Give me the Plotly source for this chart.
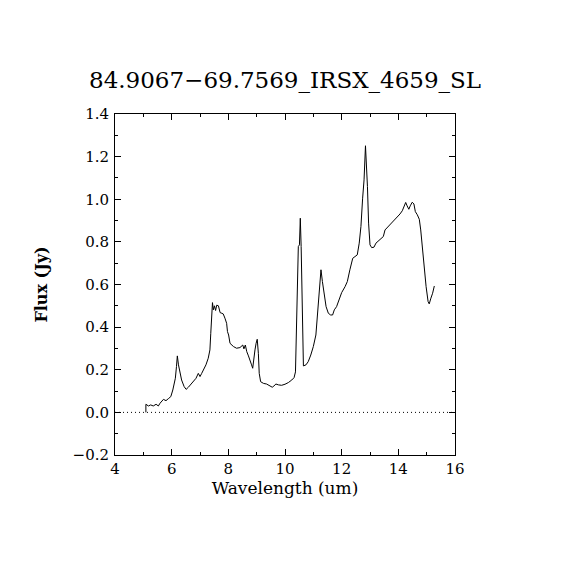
import plotly.graph_objects as go

# spectrum (wavelength in um, flux in Jy)
wavelength = [
    5.09, 5.09, 5.18, 5.26, 5.35, 5.45, 5.53, 5.59, 5.71, 5.80, 5.88, 5.97,
    6.04, 6.08, 6.13, 6.17, 6.20, 6.24, 6.29, 6.35, 6.44, 6.51, 6.59, 6.67,
    6.77, 6.86, 6.94, 7.00, 7.06, 7.12, 7.21, 7.29, 7.35, 7.38, 7.41, 7.44,
    7.47, 7.51, 7.55, 7.59, 7.65, 7.71, 7.77, 7.82, 7.88, 7.94, 7.97, 8.01,
    8.06, 8.12, 8.18, 8.29, 8.41, 8.51, 8.55, 8.60, 8.65, 8.71, 8.77, 8.82,
    8.86, 8.89, 8.94, 8.98, 9.02, 9.06, 9.09, 9.14, 9.24, 9.35, 9.47, 9.55,
    9.61, 9.68, 9.77, 9.88, 10.00, 10.12, 10.24, 10.32, 10.37, 10.41, 10.47,
    10.51, 10.54, 10.57, 10.60, 10.65, 10.74, 10.82, 10.91, 11.00, 11.09,
    11.15, 11.21, 11.27, 11.32, 11.38, 11.45, 11.53, 11.61, 11.68, 11.74,
    11.82, 11.92, 12.00, 12.12, 12.20, 12.29, 12.39, 12.47, 12.55, 12.62,
    12.68, 12.74, 12.79, 12.84, 12.87, 12.91, 12.95, 13.00, 13.06, 13.14,
    13.21, 13.29, 13.39, 13.47, 13.53, 13.61, 13.71, 13.80, 13.88, 13.97,
    14.06, 14.14, 14.20, 14.26, 14.31, 14.37, 14.42, 14.49, 14.55, 14.60,
    14.67, 14.74, 14.79, 14.86, 14.92, 14.98, 15.05, 15.09, 15.15, 15.21,
    15.27,
]
flux = [
    0.000, 0.038, 0.030, 0.035, 0.030, 0.038, 0.030, 0.043, 0.061, 0.055,
    0.064, 0.074, 0.105, 0.124, 0.160, 0.215, 0.265, 0.223, 0.183, 0.152,
    0.121, 0.108, 0.118, 0.129, 0.144, 0.160, 0.183, 0.168, 0.183, 0.199,
    0.223, 0.254, 0.293, 0.371, 0.449, 0.515, 0.481, 0.500, 0.478, 0.503,
    0.500, 0.468, 0.465, 0.462, 0.442, 0.418, 0.379, 0.363, 0.324, 0.316,
    0.309, 0.301, 0.304, 0.316, 0.298, 0.316, 0.285, 0.265, 0.246, 0.223,
    0.207, 0.246, 0.293, 0.324, 0.343, 0.277, 0.183, 0.144, 0.136, 0.133,
    0.124, 0.118, 0.124, 0.133, 0.129, 0.127, 0.132, 0.140, 0.152, 0.163,
    0.190, 0.379, 0.778, 0.786, 0.911, 0.778, 0.536, 0.218, 0.223, 0.238,
    0.269, 0.309, 0.363, 0.473, 0.606, 0.669, 0.614, 0.551, 0.496, 0.465,
    0.457, 0.457, 0.481, 0.496, 0.528, 0.562, 0.590, 0.614, 0.669, 0.723,
    0.731, 0.739, 0.794, 0.872, 1.005, 1.091, 1.251, 1.185, 1.060, 0.888,
    0.786, 0.773, 0.775, 0.794, 0.805, 0.814, 0.825, 0.856, 0.867, 0.880,
    0.891, 0.903, 0.916, 0.931, 0.946, 0.969, 0.985, 0.969, 0.953, 0.969,
    0.986, 0.978, 0.942, 0.927, 0.906, 0.856, 0.747, 0.669, 0.590, 0.520,
    0.509, 0.536, 0.559, 0.593,
]

x_range = [4, 16]
y_range = [-0.2, 1.4]
title_text = "84.9067\u221269.7569_IRSX_4659_SL"

serif = "DejaVu Serif, Liberation Serif, serif"

fig = go.Figure()

# dotted zero level
fig.add_trace(go.Scatter(
    x=x_range, y=[0, 0], mode="lines",
    line=dict(color="black", width=1, dash="1px,3px"),
    hoverinfo="skip", showlegend=False
))

fig.add_trace(go.Scatter(
    x=wavelength, y=flux, mode="lines",
    line=dict(color="black", width=1),
    showlegend=False
))

axis_style = dict(
    showline=True, linecolor="black", linewidth=1, mirror="ticks",
    ticks="inside", ticklen=6, tickcolor="black", tickwidth=1,
    showgrid=False, zeroline=False,
    tickfont=dict(family=serif, size=15, color="black"),
)

fig.update_xaxes(
    range=x_range, dtick=2, tick0=4,
    minor=dict(dtick=1, ticks="inside", ticklen=3, tickcolor="black"),
    title=dict(text="Wavelength (um)", font=dict(family=serif, size=17, color="black"), standoff=2),
    **axis_style
)
fig.update_yaxes(
    range=y_range, dtick=0.2, tick0=-0.2, tickformat=".1f",
    minor=dict(dtick=0.1, ticks="inside", ticklen=3, tickcolor="black"),
    title=dict(text="<b>Flux (Jy)</b>", font=dict(family=serif, size=16, color="black"), standoff=20),
    ticklabelstandoff=2,
    **axis_style
)

# page body adds ~8px, so margins are shifted to keep the plot box in place
fig.update_layout(
    width=570, height=570,
    margin=dict(l=107, r=123, t=106, b=123),
    paper_bgcolor="white", plot_bgcolor="white",
    annotations=[dict(
        text=title_text, xref="paper", yref="paper",
        x=0.5, y=1.0, yshift=19, xanchor="center", yanchor="bottom",
        showarrow=False, font=dict(family=serif, size=23, color="black")
    )],
)

fig.write_html("out.html")
